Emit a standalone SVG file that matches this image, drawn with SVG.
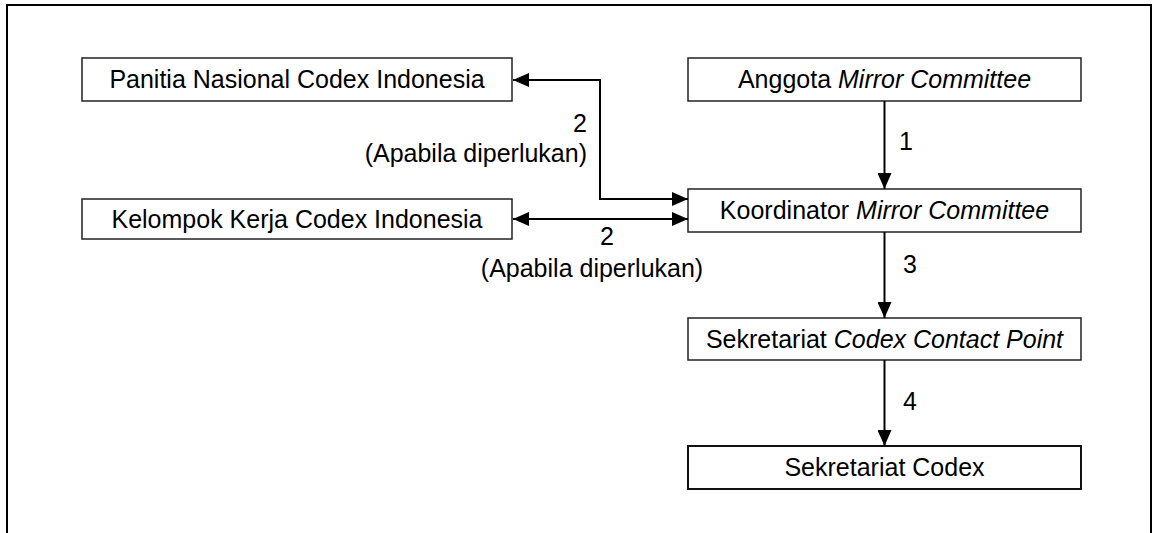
<svg xmlns="http://www.w3.org/2000/svg" width="1152" height="533" viewBox="0 0 1152 533">
<defs>
<marker id="ah" viewBox="0 0 16 14" refX="16" refY="7" markerWidth="16" markerHeight="14" markerUnits="userSpaceOnUse" orient="auto-start-reverse">
<path d="M0,0 L16,7 L0,14 Z" fill="#000"/>
</marker>
<style>
.box{fill:#fff;stroke:#222;stroke-width:1.5}
.t{font-family:"Liberation Sans",Arial,sans-serif;font-size:25px;fill:#000;text-anchor:middle}
.lb{font-family:"Liberation Sans",Arial,sans-serif;font-size:25px;fill:#000}
.c{fill:none;stroke:#000;stroke-width:2}
.frame{fill:none;stroke:#000;stroke-width:2}
</style>
</defs>
<rect width="1152" height="533" fill="#fff"/>
<path class="frame" d="M7,533 V5 H1151 V533"/>
<g id="panitia"><rect class="box" x="82" y="58" width="430" height="43"/><text class="t" x="297" y="88">Panitia Nasional Codex Indonesia</text></g>
<g id="kelompok"><rect class="box" x="82" y="199" width="430" height="40"/><text class="t" x="297" y="228">Kelompok Kerja Codex Indonesia</text></g>
<g id="anggota"><rect class="box" x="688" y="58" width="393" height="43"/><text class="t" x="884.5" y="88">Anggota <tspan font-style="italic">Mirror Committee</tspan></text></g>
<g id="koordinator"><rect class="box" x="688" y="189" width="393" height="43"/><text class="t" x="884.5" y="219">Koordinator <tspan font-style="italic">Mirror Committee</tspan></text></g>
<g id="sekretariat-ccp"><rect class="box" x="688" y="318" width="393" height="42"/><text class="t" x="884.5" y="348">Sekretariat <tspan font-style="italic">Codex Contact Point</tspan></text></g>
<g id="sekretariat-codex"><rect class="box" x="688" y="446" width="393" height="43" style="stroke:#111;stroke-width:2"/><text class="t" x="884.5" y="476">Sekretariat Codex</text></g>
<g id="connectors">
<path class="c" d="M513,80 H600 V199 H688" marker-start="url(#ah)" marker-end="url(#ah)"/>
<path class="c" d="M513,219 H688" marker-start="url(#ah)" marker-end="url(#ah)"/>
<path class="c" d="M884.5,101 V189" marker-end="url(#ah)"/>
<path class="c" d="M884.5,232 V318" marker-end="url(#ah)"/>
<path class="c" d="M884.5,360 V446" marker-end="url(#ah)"/>
<text class="lb" x="587" y="132" text-anchor="end">2</text>
<text class="lb" x="587" y="162" text-anchor="end">(Apabila diperlukan)</text>
<text class="lb" x="607" y="245" text-anchor="middle">2</text>
<text class="lb" x="592" y="277" text-anchor="middle">(Apabila diperlukan)</text>
<text class="lb" x="899" y="150">1</text>
<text class="lb" x="903" y="273">3</text>
<text class="lb" x="903" y="410">4</text>
</g>
</svg>
